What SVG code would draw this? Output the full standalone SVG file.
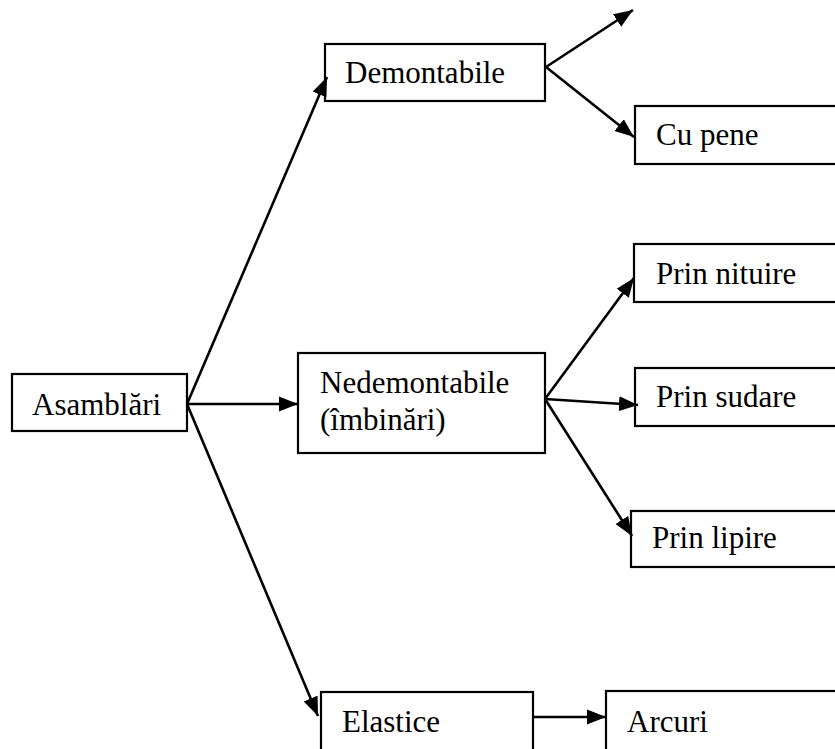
<svg xmlns="http://www.w3.org/2000/svg" width="835" height="749" viewBox="0 0 835 749">
<style>
.box{fill:#fff;stroke:#000;stroke-width:2.2}
.t{font-size:31px;fill:#000}
.c{stroke:#000;stroke-width:2.6;fill:none}
</style>
<defs>
<marker id="ah" markerUnits="userSpaceOnUse" markerWidth="20" markerHeight="16" refX="19" refY="8" orient="auto">
<path d="M0,0.5 L19,8 L0,15.5 Z" fill="#000"/>
</marker>
</defs>
<rect width="835" height="749" fill="#fff"/>
<g font-family="Liberation Serif, Times New Roman, DejaVu Serif, serif">
<g id="asamblari"><rect class="box" x="12" y="374" width="175" height="57"/><text class="t" x="32" y="415">Asamblări</text></g>
<g id="demontabile"><rect class="box" x="325" y="44" width="220" height="57"/><text class="t" x="345" y="83">Demontabile</text></g>
<g id="nedemontabile"><rect class="box" x="298" y="353" width="247" height="100"/><text class="t" x="320" y="393">Nedemontabile</text><text class="t" x="320" y="430">(îmbinări)</text></g>
<g id="elastice"><rect class="box" x="321" y="692" width="212" height="70"/><text class="t" x="342" y="732">Elastice</text></g>
<g id="cupene"><rect class="box" x="635" y="106" width="210" height="58"/><text class="t" x="656" y="145">Cu pene</text></g>
<g id="nituire"><rect class="box" x="634" y="244" width="211" height="58"/><text class="t" x="656" y="284">Prin nituire</text></g>
<g id="sudare"><rect class="box" x="635" y="368" width="210" height="58"/><text class="t" x="656" y="407">Prin sudare</text></g>
<g id="lipire"><rect class="box" x="631" y="511" width="214" height="56"/><text class="t" x="652" y="548">Prin lipire</text></g>
<g id="arcuri"><rect class="box" x="606" y="691" width="239" height="70"/><text class="t" x="627" y="732">Arcuri</text></g>
</g>
<g id="connectors">
<line class="c" x1="187" y1="404" x2="327" y2="77" marker-end="url(#ah)"/>
<line class="c" x1="187" y1="404" x2="298" y2="404" marker-end="url(#ah)"/>
<line class="c" x1="187" y1="404" x2="318" y2="716" marker-end="url(#ah)"/>
<line class="c" x1="546" y1="67" x2="633" y2="10" marker-end="url(#ah)"/>
<line class="c" x1="546" y1="67" x2="634" y2="137" marker-end="url(#ah)"/>
<line class="c" x1="545" y1="399" x2="634" y2="278" marker-end="url(#ah)"/>
<line class="c" x1="545" y1="399" x2="638" y2="405" marker-end="url(#ah)"/>
<line class="c" x1="545" y1="399" x2="632" y2="536" marker-end="url(#ah)"/>
<line class="c" x1="533" y1="717" x2="606" y2="717" marker-end="url(#ah)"/>
</g>
</svg>
